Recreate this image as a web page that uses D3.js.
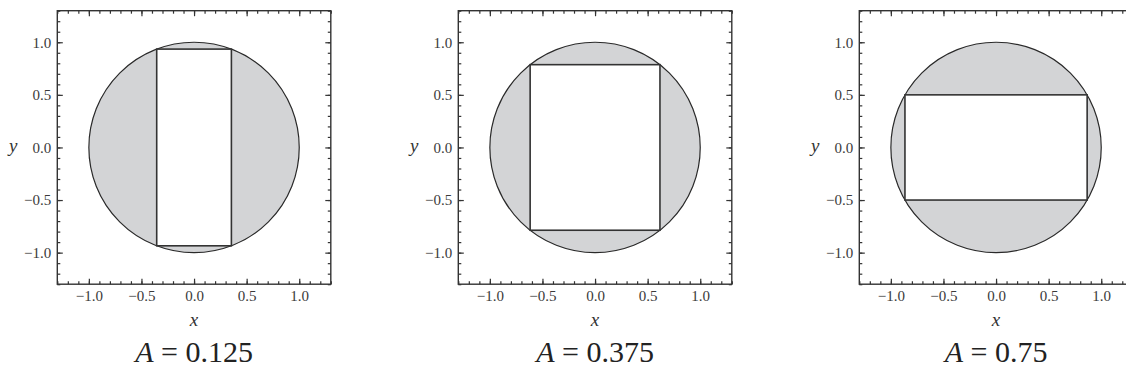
<!DOCTYPE html>
<html>
<head>
<meta charset="utf-8">
<script src="https://cdn.jsdelivr.net/npm/d3@7"></script>
<style>
  html, body { margin: 0; padding: 0; background: #fff; }
  svg { display: block; }
</style>
</head>
<body>
<svg id="chart" width="1126" height="381"></svg>
<script>
// ---- data ----
const panelLabels = ["0.125", "0.375", "0.75"];
const halfWidths  = [0.355, 0.617, 0.866];   // rectangle half-widths (x)
const halfHeights = [0.935, 0.787, 0.500];   // rectangle half-heights (y)
const circleRadius = [1, 1, 1];
const majorTicks = [-1.0, -0.5, 0.0, 0.5, 1.0];
const axisDomain = [-1.3, 1.3];

// ---- layout ----
const SERIF = "Liberation Serif";
const svg = d3.select("#chart");
const plotSize = 273.5;
const panelLeft = [57.3, 458.3, 859.3];
const plotTop = 10.7;
const fmt = d3.format(".1f");
const minorTicks = d3.range(-13, 14).map(d => d / 10);

panelLabels.forEach((lab, i) => {
  const g = svg.append("g").attr("transform", `translate(${panelLeft[i]},${plotTop})`);
  const x = d3.scaleLinear().domain(axisDomain).range([0, plotSize]);
  const y = d3.scaleLinear().domain(axisDomain).range([plotSize, 0]);

  const clipId = "clip" + i;
  g.append("clipPath").attr("id", clipId)
    .append("rect").attr("width", plotSize).attr("height", plotSize);

  const plot = g.append("g").attr("clip-path", `url(#${clipId})`);
  plot.append("circle")
    .attr("cx", x(0)).attr("cy", y(0))
    .attr("r", x(circleRadius[i]) - x(0))
    .attr("fill", "#d3d4d6")
    .attr("stroke", "#2a2a2a").attr("stroke-width", 1.2);
  plot.append("rect")
    .attr("x", x(-halfWidths[i])).attr("y", y(halfHeights[i]))
    .attr("width", x(halfWidths[i]) - x(-halfWidths[i]))
    .attr("height", y(-halfHeights[i]) - y(halfHeights[i]))
    .attr("fill", "#fff")
    .attr("stroke", "#333").attr("stroke-width", 1.6);

  const styleAxis = sel => {
    sel.select(".domain").remove();
    sel.selectAll("line").attr("stroke", "#333").attr("stroke-width", 1.2);
    sel.selectAll("text").attr("fill", "#3a3a3a")
      .attr("font-family", SERIF).attr("font-size", 15);
  };

  g.append("g").attr("transform", `translate(0,${plotSize})`)
    .call(d3.axisBottom(x).tickValues(minorTicks).tickSize(-3).tickFormat("")).call(styleAxis);
  g.append("g")
    .call(d3.axisTop(x).tickValues(minorTicks).tickSize(-3).tickFormat("")).call(styleAxis);
  g.append("g")
    .call(d3.axisLeft(y).tickValues(minorTicks).tickSize(-3).tickFormat("")).call(styleAxis);
  g.append("g").attr("transform", `translate(${plotSize},0)`)
    .call(d3.axisRight(y).tickValues(minorTicks).tickSize(-3).tickFormat("")).call(styleAxis);

  g.append("g").attr("transform", `translate(0,${plotSize})`)
    .call(d3.axisBottom(x).tickValues(majorTicks).tickSize(-5.5).tickPadding(6).tickFormat(fmt)).call(styleAxis);
  g.append("g")
    .call(d3.axisTop(x).tickValues(majorTicks).tickSize(-5.5).tickFormat("")).call(styleAxis);
  g.append("g")
    .call(d3.axisLeft(y).tickValues(majorTicks).tickSize(-5.5).tickPadding(6).tickFormat(fmt)).call(styleAxis);
  g.append("g").attr("transform", `translate(${plotSize},0)`)
    .call(d3.axisRight(y).tickValues(majorTicks).tickSize(-5.5).tickFormat("")).call(styleAxis);

  g.append("rect").attr("width", plotSize).attr("height", plotSize)
    .attr("fill", "none").attr("stroke", "#333").attr("stroke-width", 1.4);

  const lg = g.append("g").attr("font-family", "sans-serif").attr("font-size", 10);
  lg.append("text").attr("x", x(0)).attr("y", plotSize + 42)
    .attr("text-anchor", "middle").attr("fill", "#333")
    .attr("font-family", SERIF).attr("font-size", 19).attr("font-style", "italic").text("x");
  lg.append("text").attr("x", -44).attr("y", y(0) + 5)
    .attr("text-anchor", "middle").attr("fill", "#333")
    .attr("font-family", SERIF).attr("font-size", 19).attr("font-style", "italic").text("y");

  const t = lg.append("text").attr("x", x(0)).attr("y", plotSize + 78)
    .attr("text-anchor", "middle").attr("fill", "#222")
    .attr("font-family", SERIF).attr("font-size", 30);
  t.append("tspan").attr("font-style", "italic").text("A");
  t.append("tspan").text(" = " + lab);
});
</script>
</body>
</html>
